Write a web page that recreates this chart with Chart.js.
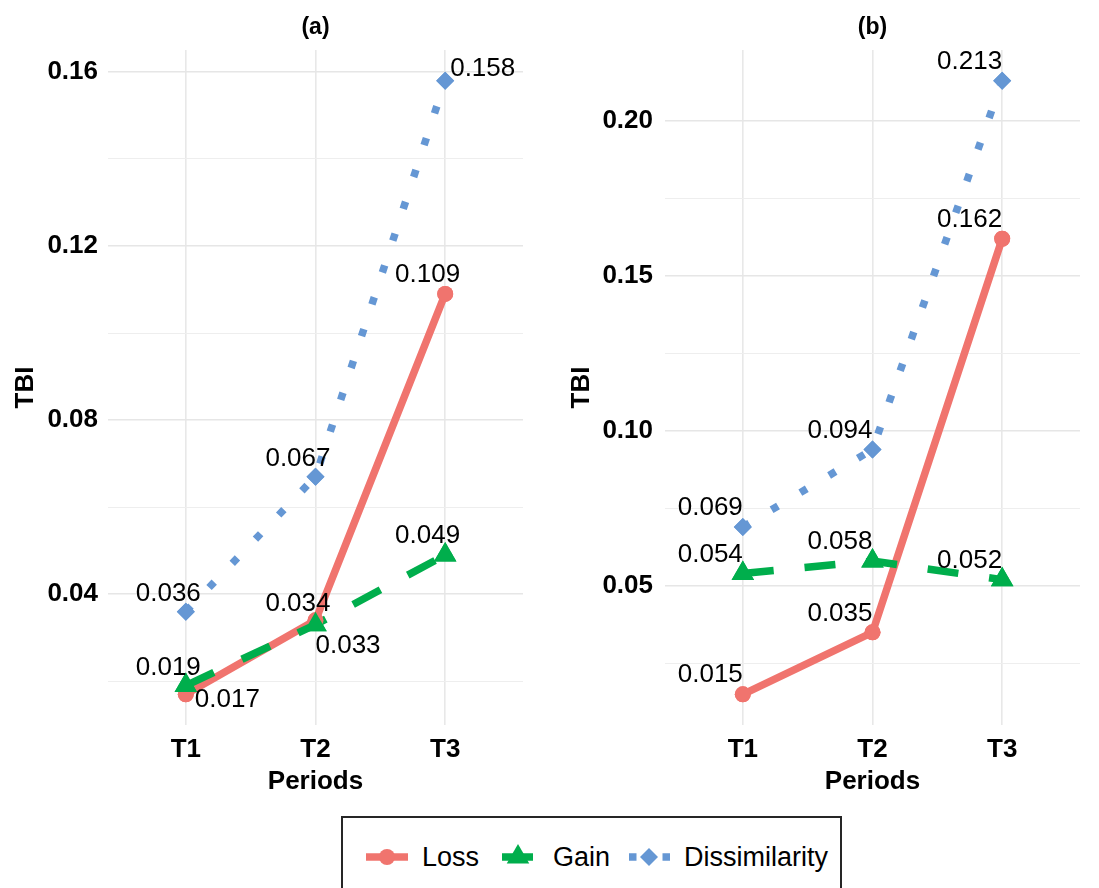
<!DOCTYPE html>
<html>
<head>
<meta charset="utf-8">
<script src="https://cdn.jsdelivr.net/npm/chart.js@4.4.1/dist/chart.umd.min.js"></script>
<style>
  body { margin: 0; background: #fff; width: 1099px; height: 888px; overflow: hidden; position: relative;
         font-family: "Liberation Sans", Arial, sans-serif; }
  #chartA { position: absolute; left: 0; top: 0; }
  #chartB { position: absolute; left: 550px; top: 0; }
  #legend { position: absolute; left: 341px; top: 816px; width: 501px; height: 100px;
            border: 2px solid #262626; box-sizing: border-box; }
  #legendRow { position: absolute; left: 366px; top: 841px; height: 32px; display: flex; align-items: center; }
  .key { display: block; }
  .lab { font-size: 27px; color: #000; margin-left: 14px; margin-right: 18px; line-height: 32px; }
</style>
</head>
<body>
<canvas id="chartA" width="550" height="800"></canvas>
<canvas id="chartB" width="549" height="800"></canvas>
<div id="legend"></div>
<div id="legendRow"></div>
<script>
// data
const periods = ['T1', 'T2', 'T3'];
const seriesNames = ['Loss', 'Gain', 'Dissimilarity'];

const lossA = [0.017, 0.034, 0.109];
const gainA = [0.019, 0.033, 0.049];
const dissA = [0.036, 0.067, 0.158];

const lossB = [0.015, 0.035, 0.162];
const gainB = [0.054, 0.058, 0.052];
const dissB = [0.069, 0.094, 0.213];

const yTicksA = [0.02, 0.04, 0.06, 0.08, 0.10, 0.12, 0.14, 0.16];
const yLabelsA = ['', '0.04', '', '0.08', '', '0.12', '', '0.16'];
const yTicksB = [0.025, 0.05, 0.075, 0.10, 0.125, 0.15, 0.175, 0.20];
const yLabelsB = ['', '0.05', '', '0.10', '', '0.15', '', '0.20'];

// styles
const FONT = '"Liberation Sans", Arial, sans-serif';
const seriesColors = ['#F0746E', '#00AE4C', '#6597D4'];
const seriesDash = [[], [31, 31], [7.5, 26]];
const seriesMarker = ['circle', 'triangle', 'rectRot'];
const seriesMarkerSize = [8, 13, 9];
const lineW = 7.5;

// where each value label sits relative to its point: [align, dx, dy]
const spotsA = [
  [['left', 9, 6], ['right', 15, -17], ['right', 15, -19]],
  [['right', 15, -18], ['left', 0, 21], ['right', 15, -19]],
  [['right', 15, -18], ['right', 15, -18], ['left', 5, -12]]
];
const spotsB = [0, 1, 2].map(() => [0, 1, 2].map(() => ['right', 0, -19]));

const valueLabels = {
  id: 'valueLabels',
  afterDatasetsDraw(chart, args, opts) {
    const ctx = chart.ctx;
    // markers go over every line, as in the original
    chart.data.datasets.forEach((ds, di) => {
      chart.getDatasetMeta(di).data.forEach(p => p.draw(ctx, chart.chartArea));
    });
    ctx.save();
    ctx.font = '26px ' + FONT;
    ctx.fillStyle = '#000';
    ctx.textBaseline = 'middle';
    chart.data.datasets.forEach((ds, di) => {
      chart.getDatasetMeta(di).data.forEach((p, i) => {
        const s = opts.spots[di][i];
        ctx.textAlign = s[0];
        ctx.fillText(ds.data[i].y.toFixed(3), p.x + s[1], p.y + s[2]);
      });
    });
    ctx.restore();
  }
};

function makeChart(id, title, series, yTicks, yLabels, cfg) {
  const all = series.flat();
  const lo = Math.min(...all), hi = Math.max(...all);
  const pad = (hi - lo) * 0.05;
  const datasets = series.map((vals, k) => ({
    label: seriesNames[k],
    data: vals.map((v, i) => ({ x: i, y: v })),
    borderColor: seriesColors[k],
    backgroundColor: seriesColors[k],
    borderWidth: lineW,
    borderDash: seriesDash[k],
    pointStyle: seriesMarker[k],
    pointRadius: seriesMarkerSize[k],
    pointBackgroundColor: seriesColors[k],
    pointBorderWidth: 0,
    tension: 0,
    order: 3 - k
  }));
  return new Chart(document.getElementById(id), {
    type: 'line',
    data: { datasets },
    plugins: [valueLabels],
    options: {
      responsive: false,
      animation: false,
      events: [],
      layout: { padding: { left: 0, right: cfg.padRight, top: 0, bottom: 0 } },
      plugins: {
        legend: { display: false },
        tooltip: { enabled: false },
        title: {
          display: true, text: title, color: '#000', fullSize: false,
          font: { family: FONT, size: 23, weight: 'bold' },
          padding: { top: 13.5, bottom: 8.9 }
        },
        valueLabels: { spots: cfg.spots }
      },
      scales: {
        x: {
          type: 'linear', min: -0.6, max: 2.6,
          afterBuildTicks: ax => { ax.ticks = periods.map((p, i) => ({ value: i })); },
          afterFit: ax => { ax.height = 75; },
          border: { display: false },
          grid: { drawTicks: false, color: '#E8E8E8', lineWidth: 1.6 },
          ticks: {
            padding: 9, color: '#000', maxRotation: 0, autoSkip: false,
            font: { family: FONT, size: 26, weight: 'bold' },
            callback: (v, i) => periods[i]
          },
          title: {
            display: true, text: 'Periods', color: '#000',
            font: { family: FONT, size: 26, weight: 'bold' },
            padding: { top: 0, bottom: 3 }
          }
        },
        y: {
          min: lo - pad, max: hi + pad,
          afterBuildTicks: ax => { ax.ticks = yTicks.map(v => ({ value: v })); },
          afterFit: ax => { ax.width = cfg.axisW; },
          border: { display: false },
          grid: {
            drawTicks: false,
            color: c => (yLabels[c.index] ? '#E6E6E6' : '#EEEEEE'),
            lineWidth: c => (yLabels[c.index] ? 1.6 : 1.1)
          },
          ticks: {
            padding: cfg.tickPad, color: '#000', autoSkip: false,
            font: { family: FONT, size: 26, weight: 'bold' },
            callback: (v, i) => yLabels[i]
          },
          title: {
            display: true, text: 'TBI', color: '#000',
            font: { family: FONT, size: 26, weight: 'bold' },
            padding: { top: cfg.titlePad, bottom: 0 }
          }
        }
      }
    }
  });
}

makeChart('chartA', '(a)', [lossA, gainA, dissA], yTicksA, yLabelsA,
  { padRight: 27, axisW: 108, tickPad: 10, titlePad: 10, spots: spotsA });
makeChart('chartB', '(b)', [lossB, gainB, dissB], yTicksB, yLabelsB,
  { padRight: 19, axisW: 115, tickPad: 12, titlePad: 16, spots: spotsB });

// shared legend
const dashStart = [0, 5, 1];
const row = document.getElementById('legendRow');
seriesNames.forEach((name, k) => {
  const c = document.createElement('canvas');
  c.width = 42; c.height = 32; c.className = 'key';
  const g = c.getContext('2d');
  g.strokeStyle = seriesColors[k];
  g.lineWidth = lineW;
  g.setLineDash(seriesDash[k]);
  g.lineDashOffset = -dashStart[k];
  g.beginPath(); g.moveTo(0, 16); g.lineTo(42, 16); g.stroke();
  g.setLineDash([]);
  g.fillStyle = seriesColors[k];
  const r = seriesMarkerSize[k];
  g.beginPath();
  if (seriesMarker[k] === 'circle') {
    g.arc(21, 16, r, 0, Math.PI * 2);
  } else if (seriesMarker[k] === 'triangle') {
    g.moveTo(21, 16 - r);
    g.lineTo(21 + r * Math.sin(2 * Math.PI / 3), 16 - r * Math.cos(2 * Math.PI / 3));
    g.lineTo(21 - r * Math.sin(2 * Math.PI / 3), 16 - r * Math.cos(2 * Math.PI / 3));
  } else {
    g.moveTo(21, 16 - r); g.lineTo(21 + r, 16); g.lineTo(21, 16 + r); g.lineTo(21 - r, 16);
  }
  g.closePath(); g.fill();
  const s = document.createElement('span');
  s.className = 'lab';
  s.textContent = name;
  row.appendChild(c);
  row.appendChild(s);
});
</script>
</body>
</html>
